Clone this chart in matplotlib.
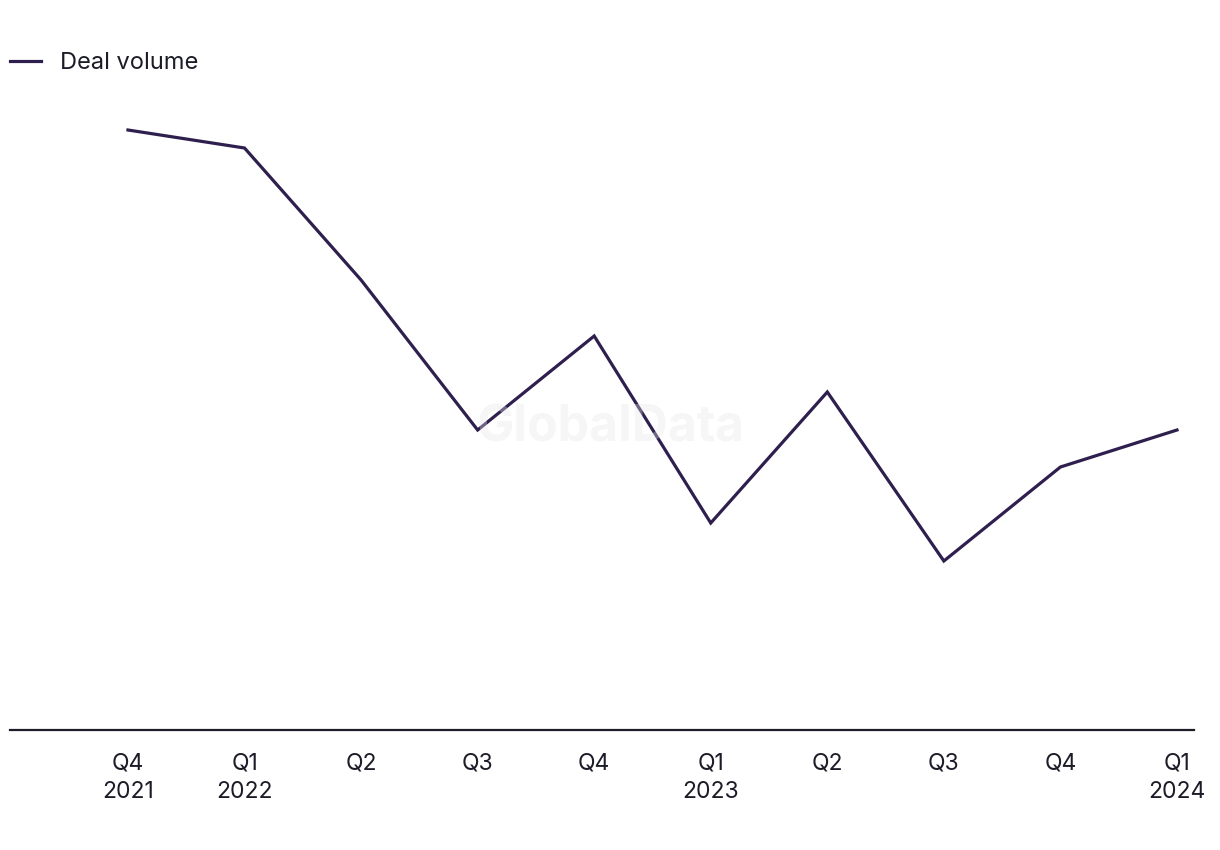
import numpy as np
from matplotlib import pyplot as plt

plt.rcParams['font.family'] = ['Inter', 'DejaVu Sans']

quarters = ["Q4\n2021", "Q1\n2022", "Q2", "Q3", "Q4", "Q1\n2023", "Q2", "Q3", "Q4", "Q1\n2024"]
deal_volume = [600, 582, 450, 300, 394, 207, 338, 169, 263, 300]

line_color = "#2f1f4e"
text_color = "#1c1c28"

fig = plt.figure(figsize=(12.2, 8.5), dpi=100)
ax = fig.add_axes([10 / 1220, 120 / 850, 1184 / 1220, 670 / 850])

x = np.arange(len(quarters))
ax.plot(x, deal_volume, color=line_color, lw=2.3, solid_joinstyle='miter', label="Deal volume")

ax.set_xlim(-1.012, 9.146)
ax.set_ylim(0, 670)
ax.set_xticks(x)
ax.set_xticklabels(quarters, fontsize=16.5, color=text_color, linespacing=1.4)
ax.tick_params(axis='x', length=0, pad=16)
ax.set_yticks([])
for side in ['top', 'right', 'left']:
    ax.spines[side].set_visible(False)
ax.spines['bottom'].set_color(text_color)
ax.spines['bottom'].set_linewidth(1.6)

# watermark, faint and drawn over the line
fig.text(611 / 1220, 1 - 428 / 850, "GlobalData", fontsize=36, fontweight='bold',
         color="#e6e6ea", alpha=0.35, ha='center', va='center', zorder=5)

# legend
leg = fig.legend(loc='upper left', bbox_to_anchor=(10 / 1220, 1 - 52 / 850), frameon=False,
                 fontsize=17, handlelength=1.3, handletextpad=0.8, borderaxespad=0,
                 borderpad=0)
for t in leg.get_texts():
    t.set_color(text_color)

plt.savefig("out.png", dpi=100)
